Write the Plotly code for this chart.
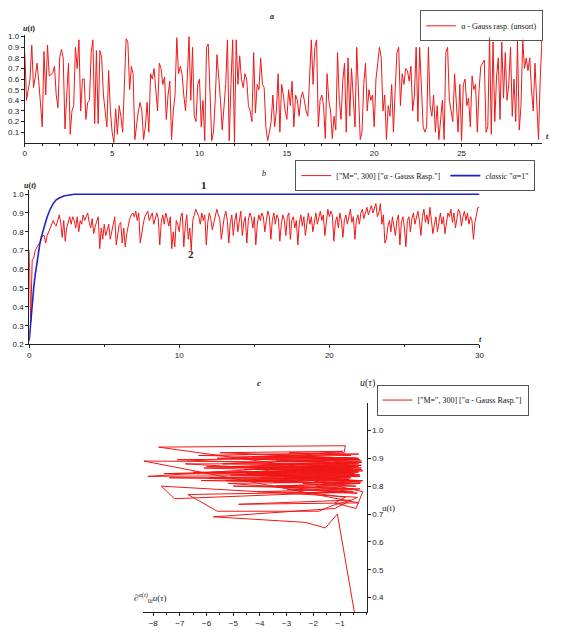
import plotly.graph_objects as go

# ---- panel a : unsorted alpha, sampled every 0.1 ----
a_dt = 0.1
a_u = [
    0.85, 0.40, 0.50, 0.60, 0.92, 0.52, 0.62, 0.75, 0.58, 0.35,
    0.15, 0.86, 0.45, 0.92, 0.63, 0.64, 0.66, 0.72, 0.45, 0.33,
    0.80, 0.88, 0.80, 0.13, 0.45, 0.75, 0.08, 0.30, 0.35, 0.90,
    0.70, 0.97, 0.30, 0.60, 0.60, 0.22, 0.38, 0.40, 0.85, 0.97,
    0.18, 0.87, 0.18, 0.87, 0.80, 0.45, 0.30, 0.15, 0.68, 0.30,
    0.10, 0.00, 0.32, 0.08, 0.35, 0.25, 0.10, 0.60, 0.98, 0.95,
    0.50, 0.72, 0.65, 0.03, 0.20, 0.30, 0.38, 0.30, 0.03, 0.15,
    0.38, 0.10, 0.65, 0.60, 0.70, 0.50, 0.30, 0.75, 0.70, 0.55,
    0.62, 0.22, 0.45, 0.58, 0.03, 0.30, 0.45, 0.99, 0.65, 0.72,
    0.65, 0.45, 0.30, 0.60, 1.00, 0.40, 0.90, 0.25, 0.20, 0.55,
    0.60, 0.15, 0.40, 0.02, 0.90, 0.93, 0.50, 0.02, 0.10, 0.40,
    0.83, 0.65, 0.40, 0.12, 0.30, 0.55, 0.97, 0.02, 0.55, 0.97,
    0.00, 0.97, 0.55, 0.82, 0.60, 0.52, 0.65, 0.60, 0.35, 0.30,
    0.20, 0.85, 0.28, 0.55, 0.50, 0.80, 0.55, 0.52, 0.15, 0.02,
    0.10, 0.20, 0.45, 0.15, 0.30, 0.65, 0.10, 0.55, 0.45, 0.30,
    0.22, 0.50, 0.35, 0.58, 0.15, 0.45, 0.40, 0.25, 0.42, 0.48,
    0.40, 0.30, 0.25, 0.62, 0.97, 0.55, 0.90, 0.97, 0.15, 0.40,
    0.45, 0.35, 0.04, 0.65, 0.40, 0.30, 0.04, 0.25, 0.12, 0.85,
    0.40, 0.22, 0.58, 0.75, 0.10, 0.80, 0.25, 0.70, 0.40, 0.15,
    0.90, 0.50, 0.03, 0.10, 0.55, 0.75, 0.30, 0.50, 0.40, 0.45,
    0.15, 0.60, 0.78, 0.90, 0.80, 0.30, 0.45, 0.03, 0.35, 0.25,
    0.55, 0.10, 0.50, 0.85, 0.90, 0.35, 0.65, 0.55, 0.70, 0.68,
    0.58, 0.72, 0.30, 0.45, 0.90, 0.20, 0.90, 0.50, 0.15, 0.10,
    0.15, 0.90, 0.35, 0.25, 0.45, 0.10, 0.35, 0.03, 0.20, 0.40,
    0.03, 0.85, 0.90, 0.40, 0.30, 0.20, 0.65, 0.40, 0.10, 0.55,
    0.02, 0.55, 0.60, 0.35, 0.42, 0.15, 0.63, 0.50, 0.55, 0.10,
    0.50, 0.72, 0.75, 0.78, 0.10, 0.15, 0.99, 0.08, 0.95, 0.20,
    0.62, 0.80, 0.22, 0.95, 0.42, 0.85, 0.40, 0.55, 0.90, 0.25,
    0.60, 0.20, 0.96, 0.12, 0.35, 0.97, 0.70, 0.80, 0.68, 0.80,
    0.50, 0.30, 0.75, 0.40, 0.03, 0.60, 0.97, 0.70,
]
a_t = [round(i * a_dt, 1) for i in range(len(a_u))]

# ---- panel b : M=300 gauss alpha (red) and classic alpha=1 (blue) ----
b_u = [
    0.70, 0.32, 0.65, 0.66, 0.70, 0.72, 0.73, 0.74, 0.76, 0.78,
    0.78, 0.74, 0.78, 0.80, 0.82, 0.84, 0.86, 0.84, 0.83, 0.86,
    0.89, 0.85, 0.77, 0.86, 0.75, 0.82, 0.86, 0.88, 0.84, 0.88,
    0.86, 0.82, 0.88, 0.80, 0.86, 0.84, 0.89, 0.86, 0.88, 0.90,
    0.85, 0.82, 0.87, 0.79, 0.83, 0.86, 0.88, 0.71, 0.82, 0.76,
    0.84, 0.78, 0.82, 0.84, 0.76, 0.80, 0.85, 0.88, 0.73, 0.80,
    0.84, 0.85, 0.74, 0.82, 0.72, 0.79, 0.84, 0.87, 0.89, 0.90,
    0.88, 0.91, 0.86, 0.90, 0.74, 0.80, 0.84, 0.88, 0.90, 0.91,
    0.86, 0.88, 0.90, 0.84, 0.88, 0.90, 0.87, 0.73, 0.85, 0.89,
    0.84, 0.90, 0.87, 0.83, 0.88, 0.71, 0.80, 0.72, 0.86, 0.84,
    0.80, 0.88, 0.90, 0.72, 0.83, 0.89, 0.76, 0.82, 0.70, 0.86,
    0.89, 0.92, 0.90, 0.88, 0.84, 0.90, 0.86, 0.89, 0.73, 0.85,
    0.90, 0.87, 0.81, 0.85, 0.90, 0.92, 0.89, 0.87, 0.76, 0.84,
    0.88, 0.91, 0.86, 0.74, 0.85, 0.89, 0.78, 0.86, 0.90, 0.80,
    0.87, 0.91, 0.78, 0.85, 0.88, 0.74, 0.86, 0.90, 0.88, 0.82,
    0.88, 0.73, 0.84, 0.89, 0.86, 0.90, 0.88, 0.80, 0.86, 0.91,
    0.88, 0.76, 0.86, 0.90, 0.84, 0.89, 0.87, 0.75, 0.84, 0.89,
    0.86, 0.78, 0.88, 0.90, 0.76, 0.86, 0.88, 0.82, 0.86, 0.73,
    0.85, 0.89, 0.83, 0.88, 0.78, 0.86, 0.90, 0.84, 0.88, 0.80,
    0.86, 0.90, 0.84, 0.88, 0.91, 0.86, 0.89, 0.78, 0.86, 0.92,
    0.88, 0.91, 0.89, 0.75, 0.85, 0.88, 0.82, 0.90, 0.86, 0.77,
    0.86, 0.89, 0.84, 0.88, 0.92, 0.85, 0.88, 0.76, 0.86, 0.89,
    0.84, 0.90, 0.92, 0.87, 0.91, 0.93, 0.89, 0.92, 0.94, 0.90,
    0.93, 0.95, 0.88, 0.90, 0.95, 0.84, 0.89, 0.74, 0.76, 0.83,
    0.86, 0.80, 0.88, 0.84, 0.78, 0.86, 0.89, 0.73, 0.85, 0.88,
    0.82, 0.72, 0.86, 0.88, 0.80, 0.87, 0.90, 0.84, 0.88, 0.91,
    0.86, 0.78, 0.88, 0.92, 0.85, 0.89, 0.84, 0.93, 0.86, 0.79,
    0.84, 0.88, 0.80, 0.86, 0.90, 0.84, 0.88, 0.79, 0.86, 0.90,
    0.88, 0.92, 0.85, 0.90, 0.82, 0.88, 0.92, 0.90, 0.83, 0.88,
    0.91, 0.86, 0.90, 0.84, 0.88, 0.86, 0.76, 0.85, 0.90, 0.93,
    0.93,
]
b_t = [round(i * 0.1, 1) for i in range(len(b_u))]

classic_t = [0, 0.1, 0.2, 0.3, 0.4, 0.5, 0.6, 0.7, 0.8, 0.9, 1.0, 1.2, 1.4,
             1.6, 1.8, 2.0, 2.3, 2.6, 3.0, 3.5, 30]
classic_u = [0.22, 0.33, 0.42, 0.50, 0.57, 0.63, 0.68, 0.73, 0.77, 0.80, 0.83,
             0.88, 0.92, 0.95, 0.97, 0.98, 0.99, 0.995, 1.0, 1.0, 1.0]

# ---- panel c : phase portrait, fractional derivative vs u ----
c_du = [
    -0.45, -1.10, -1.55, -2.30, -5.75, -1.20, -0.35,
    -7.70, -7.20, -0.50,
    -6.70, -5.60, -1.80, -1.30, -0.60,
    -4.80, -0.30,
    -8.35, -0.20, -8.20, -0.25, -7.80, -0.80, -0.85,
    -6.30, -0.30, -5.40, -0.40, -4.60, -0.20, -6.00, -0.55,
    -3.80, -0.15, -5.10, -0.60, -7.40, -0.35, -4.20, -0.90,
    -3.10, -0.25, -5.80, -0.45, -6.80, -0.30, -4.90, -0.70,
    -3.40, -0.20, -5.30, -0.50, -2.70, -0.35, -4.40, -1.00,
    -6.20, -0.25, -3.60, -0.60, -5.00, -0.40, -2.40, -0.15,
    -4.00, -0.70, -6.50, -0.30, -3.30, -0.55, -7.10, -0.40,
    -4.70, -0.60, -2.90, -0.30, -5.60, -0.20, -3.90, -0.80,
    -2.20, -0.45, -4.50, -0.30, -5.90, -0.65, -3.50, -0.25,
    -1.90, -0.50, -4.10, -0.35, -3.00, -0.75, -5.20, -0.20,
    -2.60, -0.40, -4.80, -0.55, -6.10, -0.30, -3.70, -0.65,
    -2.10, -0.25, -4.30, -0.50, -5.50, -0.90, -3.20, -0.35,
    -1.60, -0.20, -4.60, -0.70, -7.60, -0.45, -2.80, -0.30,
    -5.30, -0.60, -3.40, -0.25, -2.00, -0.80, -1.20, -0.40,
    -0.15, -4.40, -0.35, -2.50, -0.50, -3.60, -0.20, -1.80,
    -0.60, -2.90, -0.30,
]
c_u = [
    0.34, 0.70, 0.65, 0.67, 0.69, 0.72, 0.76,
    0.80, 0.755, 0.78,
    0.77, 0.71, 0.71, 0.73, 0.75,
    0.735, 0.74,
    0.89, 0.885, 0.835, 0.84, 0.94, 0.945, 0.92,
    0.91, 0.90, 0.88, 0.875, 0.86, 0.865, 0.87, 0.86,
    0.85, 0.855, 0.84, 0.83, 0.83, 0.82, 0.82, 0.81,
    0.83, 0.835, 0.85, 0.845, 0.88, 0.88, 0.90, 0.895,
    0.89, 0.885, 0.87, 0.865, 0.86, 0.85, 0.84, 0.83,
    0.82, 0.81, 0.80, 0.79, 0.80, 0.80, 0.81, 0.82,
    0.83, 0.825, 0.85, 0.855, 0.87, 0.87, 0.895, 0.90,
    0.915, 0.91, 0.92, 0.915, 0.90, 0.89, 0.875, 0.87,
    0.86, 0.855, 0.845, 0.84, 0.83, 0.825, 0.815, 0.81,
    0.80, 0.79, 0.78, 0.775, 0.79, 0.78, 0.81, 0.815,
    0.83, 0.835, 0.85, 0.85, 0.865, 0.87, 0.88, 0.88,
    0.89, 0.895, 0.905, 0.90, 0.92, 0.925, 0.905, 0.90,
    0.88, 0.875, 0.86, 0.86, 0.845, 0.84, 0.83, 0.82,
    0.82, 0.81, 0.80, 0.79, 0.775, 0.76, 0.74, 0.72,
    0.78, 0.87, 0.87, 0.85, 0.845, 0.86, 0.86, 0.84,
    0.835, 0.855, 0.85,
]

RED = "#f01818"
BLUE = "#1e22c8"
# the page body keeps its 8px browser margin, so the figure is 16px smaller
PAGE_W, PAGE_H = 563, 637
OFF = 8
W, H = PAGE_W - 2 * OFF, PAGE_H - 2 * OFF - 1


def px(x):
    return (x - OFF) / W


def py(y):
    return 1 - (y - OFF) / H


fig = go.Figure()

fig.add_trace(go.Scatter(x=a_t, y=a_u, mode="lines", line=dict(color=RED, width=1),
                         name="α - Gauss rasp. (unsort)", legend="legend",
                         showlegend=True, xaxis="x", yaxis="y"))
fig.add_trace(go.Scatter(x=b_t, y=b_u, mode="lines", line=dict(color=RED, width=1),
                         name='["M=", 300] ["α - Gauss Rasp."]', legend="legend2",
                         showlegend=True, xaxis="x2", yaxis="y2"))
fig.add_trace(go.Scatter(x=classic_t, y=classic_u, mode="lines",
                         line=dict(color=BLUE, width=1.6),
                         name='<i>classic</i> "α=1"', legend="legend2",
                         showlegend=True, xaxis="x2", yaxis="y2"))
fig.add_trace(go.Scatter(x=c_du, y=c_u, mode="lines", line=dict(color=RED, width=1),
                         name='["M=", 300] ["α - Gauss Rasp."]', legend="legend3",
                         showlegend=True, xaxis="x3", yaxis="y3"))

tickfont = dict(family="Liberation Sans", size=8, color="#222")
ax = dict(showgrid=False, zeroline=False, showline=True, linecolor="#222",
          linewidth=1, ticks="outside", ticklen=3, tickcolor="#222",
          tickfont=tickfont, fixedrange=True)

legfont = dict(family="Liberation Serif", size=8, color="#111")
leg = dict(font=legfont, bordercolor="#555", borderwidth=1,
           bgcolor="rgba(255,255,255,0)", itemwidth=30, tracegroupgap=0)

# legend boxes are centred on where the (shorter) original boxes sit
fig.update_layout(
    width=W, height=H, margin=dict(l=0, r=0, t=0, b=0),
    paper_bgcolor="white", plot_bgcolor="white", showlegend=True,
    xaxis=dict(ax, domain=[px(19), px(546.8)], range=[0, 29.6], anchor="y",
               tickvals=[0, 5, 10, 15, 20, 25],
               minor=dict(dtick=1, ticks="outside", ticklen=2, tickcolor="#222")),
    yaxis=dict(ax, domain=[py(142.3), py(32.8)], range=[0, 1.02], anchor="x",
               tickvals=[0.1, 0.2, 0.3, 0.4, 0.5, 0.6, 0.7, 0.8, 0.9, 1.0],
               tickformat=".1f"),
    xaxis2=dict(ax, domain=[px(23.5), px(483)], range=[0, 30], anchor="y2",
                tickvals=[0, 10, 20, 30],
                minor=dict(dtick=5, ticks="outside", ticklen=2, tickcolor="#222")),
    yaxis2=dict(ax, domain=[py(346.3), py(190.5)], range=[0.2, 1.02], anchor="x2",
                tickvals=[0.2, 0.3, 0.4, 0.5, 0.6, 0.7, 0.8, 0.9, 1.0],
                tickformat=".1f"),
    xaxis3=dict(ax, domain=[px(140), px(368)], range=[-8.37, 0], anchor="y3",
                tickvals=[-8, -7, -6, -5, -4, -3, -2, -1],
                minor=dict(dtick=0.5, ticks="outside", ticklen=2, tickcolor="#222")),
    yaxis3=dict(ax, domain=[py(617.3), py(405)], range=[0.347, 1.10], anchor="x3",
                side="right", tickvals=[0.4, 0.5, 0.6, 0.7, 0.8, 0.9, 1.0],
                tickformat=".1f"),
    legend=dict(leg, x=px(548), y=py(24), xanchor="right", yanchor="middle"),
    legend2=dict(leg, x=px(540), y=py(175.5), xanchor="right", yanchor="middle",
                 orientation="h"),
    legend3=dict(leg, x=px(378), y=py(402.5), xanchor="left", yanchor="middle"),
)

serif = "Liberation Serif"
notes = [
    ("<b><i>a</i></b>", 271.8, 15, 8),
    ("<b><i>u</i>(<i>t</i>)</b>", 23.3, 26.7, 8),
    ("<b><i>t</i></b>", 552, 136, 8),
    ("<i>b</i>", 263, 173.3, 8),
    ("<b><i>u</i>(<i>t</i>)</b>", 24, 185, 8),
    ("<b>1</b>", 201.8, 185, 11),
    ("<b>2</b>", 189, 255, 11),
    ("<b><i>t</i></b>", 484, 341, 8),
    ("<b><i>c</i></b>", 258, 385, 9),
    ("<i>u</i>(<i>τ</i>)", 369, 385, 10),
    ("u(t)", 390, 512, 9),
    ("<i>∂</i><sup><i>α</i>(<i>t</i>)</sup><sub>0<i>t</i></sub><i>u</i>(<i>τ</i>)",
     147, 602, 9),
]
for text, x, y, size in notes:
    fig.add_annotation(text=text, x=px(x), y=py(y), xref="paper", yref="paper",
                       showarrow=False, xanchor="center", yanchor="middle",
                       font=dict(family=serif, size=size, color="#222"))

fig.write_html("out.html")
